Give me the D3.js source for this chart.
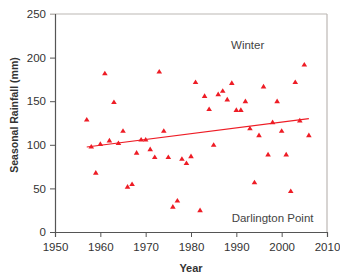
<!DOCTYPE html>
<html>
<head>
<meta charset="utf-8">
<script src="https://cdn.jsdelivr.net/npm/d3@7"></script>
<style>
  body { margin: 0; background: #fff; }
  svg text { font-family: "Liberation Sans", Arial, sans-serif; }
</style>
</head>
<body>
<div id="chart"></div>
<script>
const YEARS = [1957, 1958, 1959, 1960, 1961, 1962, 1963, 1964, 1965, 1966,
  1967, 1968, 1969, 1970, 1971, 1972, 1973, 1974, 1975, 1976,
  1977, 1978, 1979, 1980, 1981, 1982, 1983, 1984, 1985, 1986,
  1987, 1988, 1989, 1990, 1991, 1992, 1993, 1994, 1995, 1996,
  1997, 1998, 1999, 2000, 2001, 2002, 2003, 2004, 2005, 2006];
const RAINFALL = [129, 98, 68, 101, 182, 105, 149, 102, 116, 52,
  55, 91, 106, 106, 95, 86, 184, 116, 86, 29,
  36, 84, 79, 87, 172, 25, 156, 141, 100, 158,
  162, 152, 171, 140, 140, 150, 119, 57, 111, 167,
  89, 126, 150, 116, 89, 47, 172, 128, 192, 111];
// trend line end points (year, mm)
const TREND_X = [1957, 2006];
const TREND_Y = [97.5, 130];
const X_TICKS = [1950, 1960, 1970, 1980, 1990, 2000, 2010];
const Y_TICKS = [0, 50, 100, 150, 200, 250];

var data = YEARS.map(function(d, i) { return { year: d, value: RAINFALL[i] }; });

var margin = { top: 14, right: 13, bottom: 46, left: 55 },
  width = 340 - margin.left - margin.right,
  height = 278 - margin.top - margin.bottom;

var svg = d3.select("#chart")
  .append("svg")
  .attr("width", 340)
  .attr("height", 278)
  .append("g")
  .attr("transform", "translate(" + margin.left + "," + margin.top + ")");

var x = d3.scaleLinear().domain([1950, 2010]).range([0, width]);
var y = d3.scaleLinear().domain([0, 250]).range([height, 0]);

// light frame top and right
svg.append("line")
  .attr("x1", -5).attr("x2", width)
  .attr("y1", 0).attr("y2", 0)
  .attr("stroke", "#bcb8b4").attr("stroke-width", 1.2);
svg.append("line")
  .attr("x1", width).attr("x2", width)
  .attr("y1", 0).attr("y2", height)
  .attr("stroke", "#bcb8b4").attr("stroke-width", 1.2);

var yAxis = svg.append("g")
  .call(d3.axisLeft(y).tickValues(Y_TICKS).tickSize(5).tickPadding(4));
var xAxis = svg.append("g")
  .attr("transform", "translate(0," + height + ")")
  .call(d3.axisBottom(x).tickValues(X_TICKS).tickFormat(d3.format("d")).tickSize(5).tickPadding(6));

[yAxis, xAxis].forEach(function(a) {
  a.select(".domain").attr("stroke", "#555").attr("stroke-width", 1.2);
  a.selectAll(".tick line").attr("stroke", "#555");
  a.selectAll("text")
    .style("font-family", "Liberation Sans, Arial, sans-serif")
    .style("font-size", "11.5px")
    .attr("fill", "#333");
});
yAxis.select(".tick:last-of-type line").attr("stroke", "#bcb8b4");

// trend line
svg.append("line")
  .attr("x1", x(TREND_X[0])).attr("y1", y(TREND_Y[0]))
  .attr("x2", x(TREND_X[1])).attr("y2", y(TREND_Y[1]))
  .attr("stroke", "#ee1c25").attr("stroke-width", 1.2);

// triangles
svg.selectAll("path.pt")
  .data(data)
  .enter()
  .append("path")
  .attr("class", "pt")
  .attr("d", "M0,-2.6L2.8,2L-2.8,2Z")
  .attr("transform", function(d) { return "translate(" + x(d.year) + "," + y(d.value) + ")"; })
  .attr("fill", "#ee1c25");

svg.append("text")
  .attr("x", x(1992.5))
  .attr("y", 35)
  .style("text-anchor", "middle")
  .style("font-size", "11.5px")
  .attr("fill", "#444")
  .text("Winter");

svg.append("text")
  .attr("x", x(1998))
  .attr("y", 207.5)
  .style("text-anchor", "middle")
  .style("font-size", "11.5px")
  .attr("fill", "#444")
  .text("Darlington Point");

svg.append("text")
  .attr("x", x(1980))
  .attr("y", height + 40)
  .style("text-anchor", "middle")
  .style("font-size", "11px")
  .style("font-weight", "bold")
  .attr("fill", "#333")
  .text("Year");

svg.append("text")
  .attr("transform", "rotate(-90)")
  .attr("x", -101)
  .attr("y", -37)
  .style("text-anchor", "middle")
  .style("font-size", "10.5px")
  .style("font-weight", "bold")
  .attr("fill", "#333")
  .text("Seasonal Rainfall (mm)");
</script>
</body>
</html>
